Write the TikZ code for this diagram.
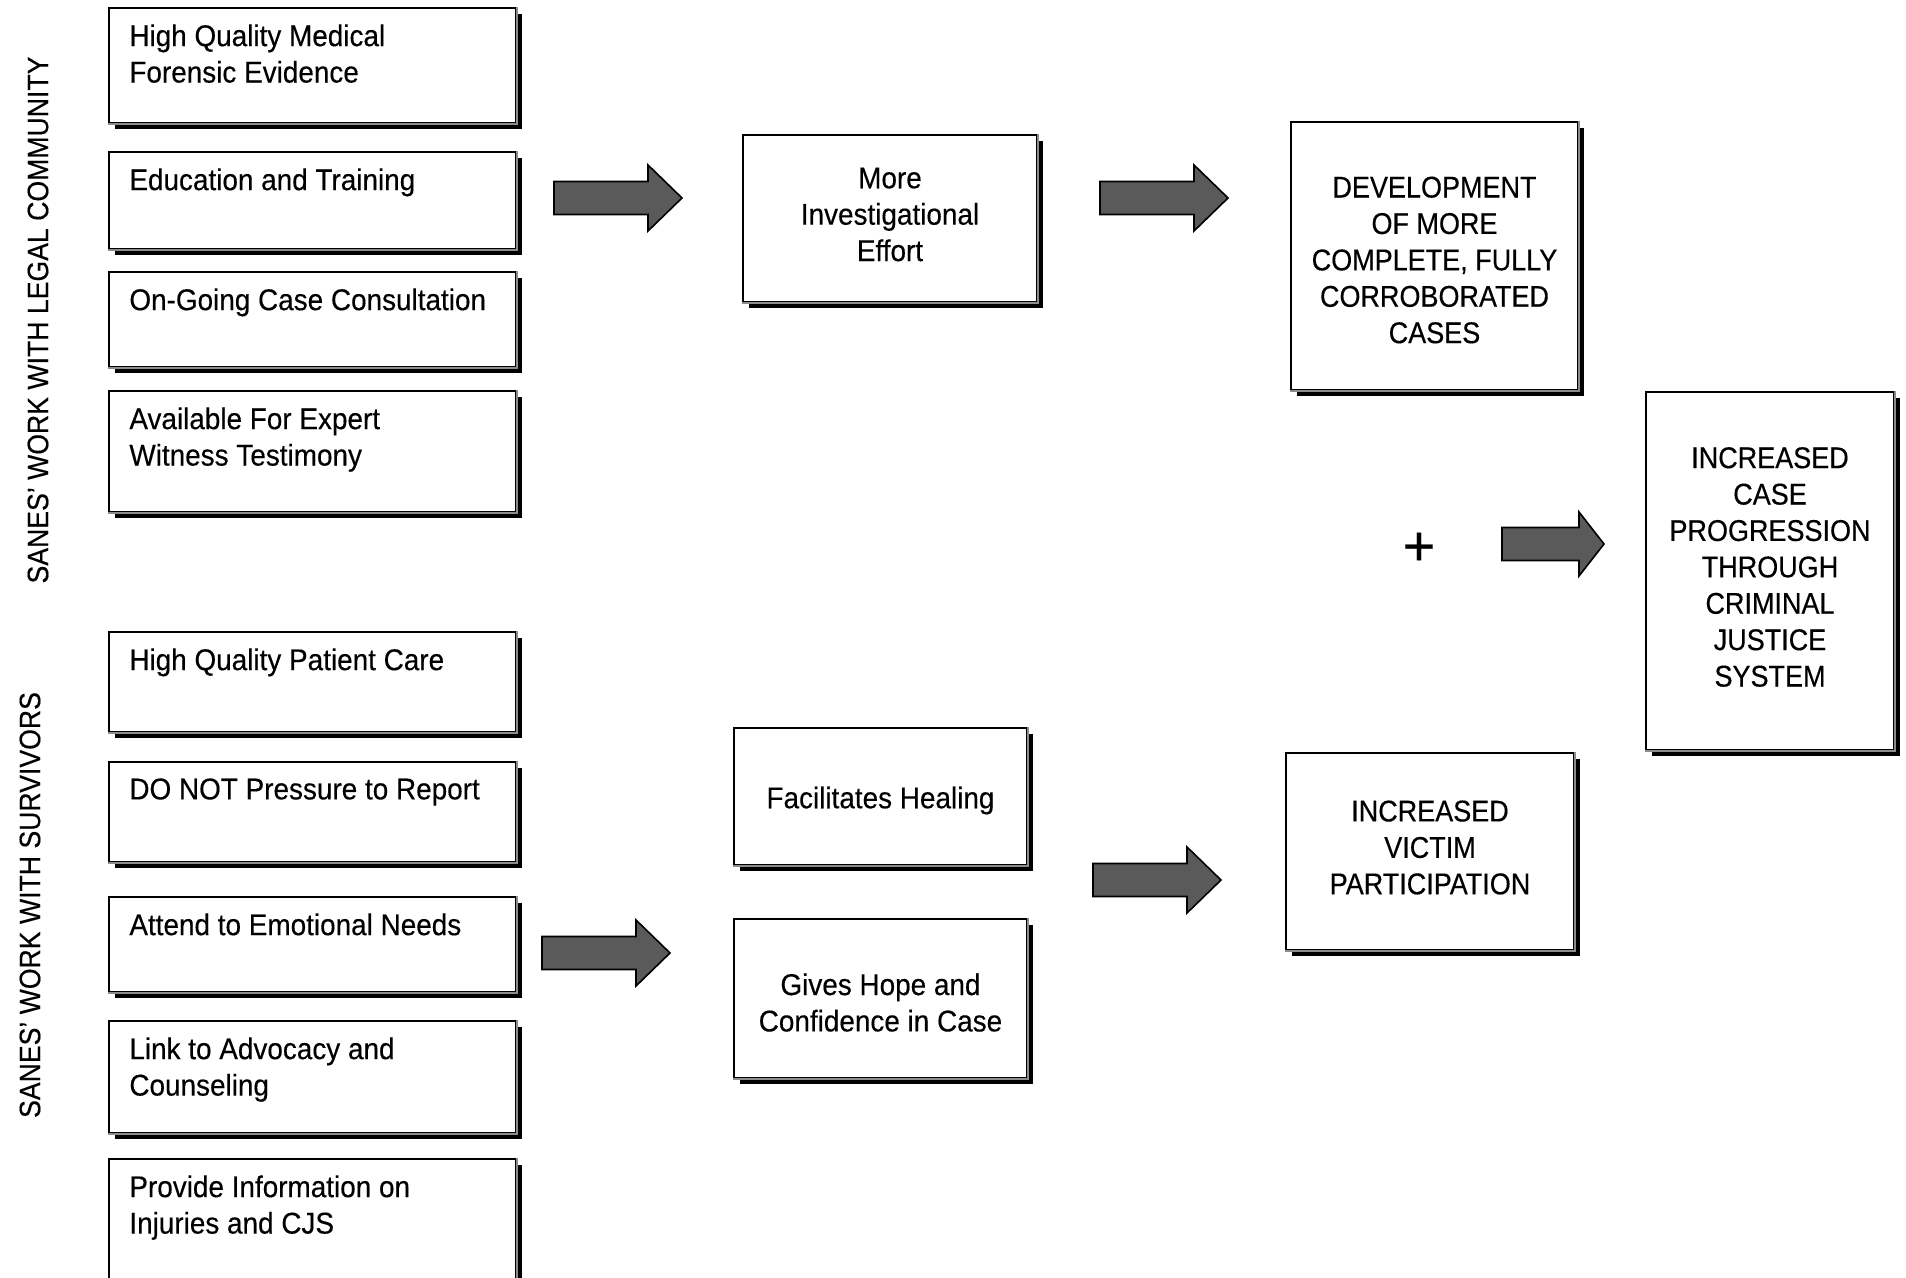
\documentclass[tikz,border=0pt]{standalone}
\usepackage{fontspec}
\setmainfont[FakeStretch=0.93,FakeBold=0.3]{Liberation Sans}
\newfontfamily\capsfont[FakeStretch=0.9,FakeBold=0.3]{Liberation Sans}
\newfontfamily\plussign[FakeBold=0.3]{Liberation Sans}
\usetikzlibrary{fit,shadows}
\definecolor{arrowgray}{HTML}{5A5A5A}
\definecolor{edgegray}{HTML}{8C8C8C}
\newcommand\boxfont{\fontsize{15}{18.2}\selectfont}
\newcommand\capsboxfont{\capsfont\fontsize{15}{18.2}\selectfont}

\begin{document}
\begin{tikzpicture}[x=0.5pt,y=-0.5pt,
  box/.style={draw=black, fill=white, line width=1pt, inner sep=0pt,
    drop shadow={shadow xshift=3pt, shadow yshift=-3pt, fill=black, opacity=1, draw=none}},
  ltext/.style={anchor=north west, inner sep=0pt, align=left, font=\boxfont},
  ctext/.style={inner sep=0pt, align=center, font=\boxfont},
  capstext/.style={inner sep=0pt, align=center, font=\capsboxfont},
  sidelabel/.style={rotate=90, inner sep=0pt, font=\capsfont\fontsize{14.8}{18}\selectfont},
  arrowshape/.style={draw=black, fill=arrowgray, line width=0.8pt, line join=miter},
  pics/blockarrow/.style n args={3}{code={
    \draw[arrowshape] (0,-16.5) -- (#1,-16.5) -- (#1,-#3) -- (#2,0) -- (#1,#3)
      -- (#1,16.5) -- (0,16.5) -- cycle;}}
]
\useasboundingbox[fill=white] (0,0) rectangle (1906,1278);

% side labels
\node[sidelabel] (legal) at (38,320) {SANES’ WORK WITH LEGAL COMMUNITY};
\node[sidelabel] (surv)  at (30,905) {SANES’ WORK WITH SURVIVORS};

% left column: work with the legal community
\node[box, fit={(109,8) (516,123)}]    (b1) {};
\node[box, fit={(109,152) (516,249)}]  (b2) {};
\node[box, fit={(109,272) (516,367)}]  (b3) {};
\node[box, fit={(109,391) (516,512)}]  (b4) {};
% left column: work with survivors
\node[box, fit={(109,632) (516,732)}]  (b5) {};
\node[box, fit={(109,762) (516,862)}]  (b6) {};
\node[box, fit={(109,897) (516,992)}]  (b7) {};
\node[box, fit={(109,1021) (516,1133)}] (b8) {};
\node[box, fit={(109,1159) (516,1320)}] (b9) {};

\node[ltext] (t1) at ([shift={(21,17)}]b1.north west) {High Quality Medical\\Forensic Evidence};
\node[ltext] (t2) at ([shift={(21,17)}]b2.north west) {Education and Training};
\node[ltext] (t3) at ([shift={(21,17)}]b3.north west) {On-Going Case Consultation};
\node[ltext] (t4) at ([shift={(21,17)}]b4.north west) {Available For Expert\\Witness Testimony};
\node[ltext] (t5) at ([shift={(21,17)}]b5.north west) {High Quality Patient Care};
\node[ltext] (t6) at ([shift={(21,17)}]b6.north west) {DO NOT Pressure to Report};
\node[ltext] (t7) at ([shift={(21,17)}]b7.north west) {Attend to Emotional Needs};
\node[ltext] (t8) at ([shift={(21,17)}]b8.north west) {Link to Advocacy and\\Counseling};
\node[ltext] (t9) at ([shift={(21,17)}]b9.north west) {Provide Information on\\Injuries and CJS};

% middle column
\node[box, fit={(743,135) (1037,302)}]  (m1) {};
\node[box, fit={(734,728) (1027,865)}]  (m2) {};
\node[box, fit={(734,919) (1027,1078)}] (m3) {};
\node[ctext] (tm1) at ([yshift=2pt]m1.center) {More\\Investigational\\Effort};
\node[ctext] (tm2) at ([yshift=-2pt]m2.center) {Facilitates Healing};
\node[ctext] (tm3) at ([yshift=-2pt]m3.center) {Gives Hope and\\Confidence in Case};

% outcome boxes
\node[box, fit={(1291,122) (1578,390)}] (r1) {};
\node[box, fit={(1286,753) (1574,950)}] (r2) {};
\node[box, fit={(1646,392) (1894,750)}] (r3) {};
\node[capstext] (tr1) at ([yshift=-2pt]r1.center) {DEVELOPMENT\\OF MORE\\COMPLETE, FULLY\\CORROBORATED\\CASES};
\node[capstext] (tr2) at ([yshift=2pt]r2.center) {INCREASED\\VICTIM\\PARTICIPATION};
\node[capstext] (tr3) at ([yshift=2pt]r3.center) {INCREASED\\CASE\\PROGRESSION\\THROUGH\\CRIMINAL\\JUSTICE\\SYSTEM};

% light right and bottom edges of every box
\foreach \b in {b1,b2,b3,b4,b5,b6,b7,b8,b9,m1,m2,m3,r1,r2,r3}
  \draw[edgegray, line width=0.8pt] (\b.north east) -- (\b.south east) -- (\b.south west);

% block arrows
\pic (a1) at (554,198)  {blockarrow={94}{128}{33}};
\pic (a2) at (1100,198) {blockarrow={94}{128}{33}};
\pic (a3) at (1502,544) {blockarrow={77}{102}{32}};
\pic (a4) at (1093,880) {blockarrow={94}{128}{33}};
\pic (a5) at (542,953)  {blockarrow={94}{128}{33}};

% combining sign
\node[inner sep=0pt, font=\plussign\fontsize{28}{30}\selectfont] (plus) at (1419,549) {+};
\end{tikzpicture}
\end{document}
